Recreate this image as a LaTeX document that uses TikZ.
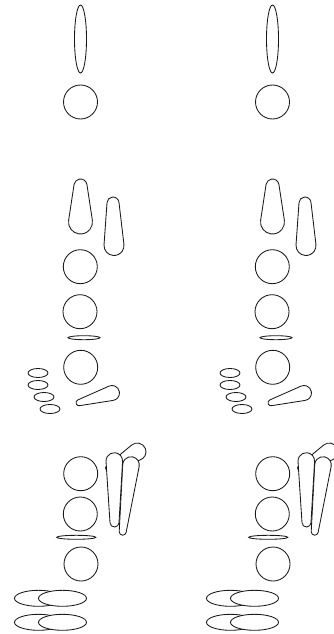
\documentclass[tikz,border=0pt]{standalone}
\tikzset{
  key/.style={draw=black!90,line width=0.85pt,fill=white},
  x=1pt,y=1pt
}
% tear: x1,y1,r1 (large end), x2,y2,r2 (small end), in reference pixels (y downwards)
\newcommand{\tear}[6]{%
  \pgfmathsetmacro{\tdx}{#4-#1}%
  \pgfmathsetmacro{\tdy}{-(#5)+(#2)}%
  \pgfmathsetmacro{\tdd}{veclen(\tdx,\tdy)}%
  \pgfmathsetmacro{\talpha}{atan2(\tdy,\tdx)}%
  \pgfmathsetmacro{\tbeta}{acos((#3-#6)/\tdd)}%
  \pgfmathsetmacro{\taa}{\talpha+\tbeta}%
  \pgfmathsetmacro{\tab}{\talpha-\tbeta+360}%
  \pgfmathsetmacro{\tac}{\talpha-\tbeta}%
  \path[key] ({#1+#3*cos(\taa)},{-(#2)+#3*sin(\taa)})
    arc[start angle=\taa,end angle=\tab,radius=#3]
    -- ({#4+#6*cos(\tac)},{-(#5)+#6*sin(\tac)})
    arc[start angle=\tac,end angle=\taa,radius=#6]
    -- cycle;%
}
\newcommand{\holecirc}[2]{\path[key] (#1,-#2) circle[radius=17];}
\newcommand{\holeoval}[4]{\path[key] (#1,-#2) ellipse[x radius=#3,y radius=#4];}
\newcommand{\figures}{%
  \holeoval{80.5}{39}{6}{34}
  \holecirc{80.5}{102}
  \tear{80.5}{222}{12}{80.5}{185.5}{6.5}
  \tear{114}{245.5}{10}{113}{203}{6}
  \holecirc{80.3}{266.7}
  \holecirc{80}{311.7}
  \holeoval{84}{337.7}{16}{2}
  \holecirc{80.7}{367.3}
  \holeoval{38}{373}{10}{4.5}
  \holeoval{38}{385}{10}{4.5}
  \holeoval{44}{397}{10}{4.5}
  \holeoval{50}{409}{10}{4.5}
  \tear{112}{393}{7.5}{79}{402.7}{3}
  \holecirc{80.7}{473.7}
  \holecirc{80.3}{514}
  \holeoval{76.3}{537.3}{19.5}{2}
  \holecirc{81}{564}
  \holeoval{38.5}{598.3}{24}{8}
  \holeoval{62.5}{598.3}{24}{8}
  \holeoval{38.5}{622.3}{24}{8}
  \holeoval{62.5}{622.3}{24}{8}
  \tear{137.3}{451.7}{8.7}{108.5}{468}{3}
  \tear{131}{465}{8.3}{122.7}{531.7}{3.5}
  \tear{114.3}{461}{8.3}{114.5}{522.5}{4.5}
}
\begin{document}
\begin{tikzpicture}
  \useasboundingbox (0,-634) rectangle (334,0);
  \clip (0,-634) rectangle (334,0);
  \figures
  \begin{scope}[xshift=192pt]
    \figures
  \end{scope}
\end{tikzpicture}
\end{document}
